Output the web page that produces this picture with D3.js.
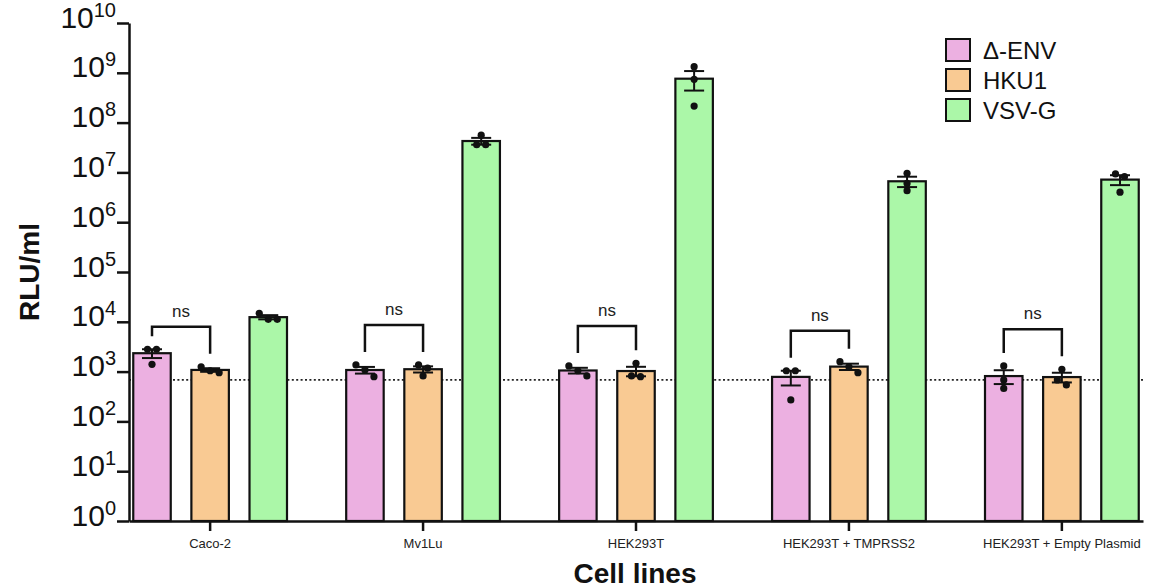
<!DOCTYPE html>
<html>
<head>
<meta charset="utf-8">
<script src="https://cdn.jsdelivr.net/npm/d3@7"></script>
<style>
  html, body { margin: 0; padding: 0; background: #fff; }
  svg { display: block; font-family: "Liberation Sans", Arial, Helvetica, sans-serif; }
</style>
</head>
<body>
<svg id="chart" width="1149" height="588"></svg>
<script>
// Cell lines on the x axis
const categories = ["Caco-2", "Mv1Lu", "HEK293T", "HEK293T + TMPRSS2", "HEK293T + Empty Plasmid"];
// Pseudovirus series
const seriesNames = ["Δ-ENV", "HKU1", "VSV-G"];
const seriesColors = ["#ecb0e1", "#f9ca93", "#abf7a8"];

// Replicate RLU/ml measurements per cell line (three per condition)
const deltaEnvReplicates = [
  [2810, 2810, 1400],
  [1360, 790, 1080],
  [1300, 820, 1040],
  [1040, 1040, 270],
  [1300, 680, 460]
];
const hku1Replicates = [
  [950, 1250, 1040],
  [1360, 820, 1170],
  [1470, 790, 820],
  [1580, 950, 1250],
  [1110, 680, 540]
];
const vsvgReplicates = [
  [14800, 11200, 11200],
  [5.6e7, 3.6e7, 3.6e7],
  [1.33e9, 7.4e8, 2.15e8],
  [9.6e6, 6.0e6, 4.3e6],
  [9.3e6, 8.2e6, 4.0e6]
];

// Δ-ENV vs HKU1 comparison per cell line
const significance = ["ns", "ns", "ns", "ns", "ns"];
// Background (limit of detection)
const detectionLimit = 680;

// Log axis ticks
const yTickValues = [1e0, 1e1, 1e2, 1e3, 1e4, 1e5, 1e6, 1e7, 1e8, 1e9, 1e10];
const yTickExponents = ["0", "1", "2", "3", "4", "5", "6", "7", "8", "9", "10"];

const yAxisTitle = "RLU/ml";
const xAxisTitle = "Cell lines";

// ---- layout ----
const svg = d3.select("#chart");
const plotLeft = 129, plotRight = 1143, plotTop = 23, plotBottom = 521;

const replicates = [deltaEnvReplicates, hku1Replicates, vsvgReplicates];
const rows = [];
categories.forEach((c, gi) => {
  seriesNames.forEach((s, si) => {
    const vals = replicates[si][gi];
    const mean = d3.mean(vals);
    const sem = d3.deviation(vals) / Math.sqrt(vals.length);
    rows.push({ category: c, series: s, si, gi, vals, mean, sem });
  });
});

const x0 = d3.scaleBand().domain(categories).range([plotLeft, plotRight])
  .paddingInner(0.278).paddingOuter(0.02);
const x1 = d3.scaleBand().domain(seriesNames).range([0, x0.bandwidth()])
  .paddingInner(0.355).paddingOuter(0);
const y = d3.scaleLog().domain([1, 1e10]).range([plotBottom, plotTop]);
const color = d3.scaleOrdinal().domain(seriesNames).range(seriesColors);

const barCenter = d => x0(d.category) + x1(d.series) + x1.bandwidth() / 2;

// detection limit line, behind the bars
svg.append("line")
  .attr("x1", plotLeft).attr("x2", plotRight)
  .attr("y1", y(detectionLimit)).attr("y2", y(detectionLimit))
  .attr("stroke", "#222").attr("stroke-width", 1.7)
  .attr("stroke-dasharray", "2,2.4");

// bars
svg.append("g").selectAll("rect").data(rows).join("rect")
  .attr("x", d => x0(d.category) + x1(d.series))
  .attr("y", d => y(d.mean))
  .attr("width", x1.bandwidth())
  .attr("height", d => plotBottom - y(d.mean))
  .attr("fill", d => color(d.series))
  .attr("stroke", "#111").attr("stroke-width", 2.2);

// error bars (mean ± SEM)
const capW = 20;
const eb = svg.append("g").attr("stroke", "#111").attr("stroke-width", 2).attr("fill", "none");
rows.forEach(d => {
  const cx = barCenter(d);
  const hi = y(d.mean + d.sem), lo = y(Math.max(d.mean - d.sem, 1));
  eb.append("line").attr("x1", cx).attr("x2", cx).attr("y1", hi).attr("y2", lo);
  eb.append("line").attr("x1", cx - capW / 2).attr("x2", cx + capW / 2).attr("y1", hi).attr("y2", hi);
  eb.append("line").attr("x1", cx - capW / 2).attr("x2", cx + capW / 2).attr("y1", lo).attr("y2", lo);
});

// replicate points, spread sideways where they would overlap
const r = 3.6, spread = 9;
const pts = [];
rows.forEach(d => {
  const py = d.vals.map(v => y(v)).sort((a, b) => a - b);
  let cluster = [];
  const flush = () => {
    cluster.forEach((yy, j) => pts.push({ x: barCenter(d) + (j - (cluster.length - 1) / 2) * spread, y: yy }));
    cluster = [];
  };
  py.forEach(yy => {
    if (cluster.length && yy - cluster[cluster.length - 1] > 2 * r) flush();
    cluster.push(yy);
  });
  flush();
});
svg.append("g").selectAll("circle").data(pts).join("circle")
  .attr("cx", d => d.x).attr("cy", d => d.y).attr("r", r).attr("fill", "#111");

// significance brackets between Δ-ENV and HKU1
const br = svg.append("g");
categories.forEach((c, gi) => {
  const a = rows.find(d => d.gi === gi && d.si === 0);
  const b = rows.find(d => d.gi === gi && d.si === 1);
  const ya = y(d3.max(a.vals)) - 13, yb = y(d3.max(b.vals)) - 13;
  const yt = Math.max(ya, yb) - 27;
  const xa = barCenter(a), xb = barCenter(b);
  br.append("path")
    .attr("d", `M${xa},${ya}V${yt}H${xb}V${yb}`)
    .attr("fill", "none").attr("stroke", "#111").attr("stroke-width", 2.5);
  br.append("text").attr("x", (xa + xb) / 2).attr("y", yt - 10)
    .attr("text-anchor", "middle").attr("font-size", 17).attr("fill", "#222")
    .text(significance[gi]);
});

// y axis
const yAxis = svg.append("g").attr("transform", `translate(${plotLeft},0)`)
  .call(d3.axisLeft(y).tickValues(yTickValues).tickFormat("").tickSize(12).tickSizeOuter(0));
yAxis.select(".domain").attr("stroke", "#111").attr("stroke-width", 2.5);
yAxis.selectAll(".tick line").attr("stroke", "#111").attr("stroke-width", 2.5);
yAxis.selectAll(".tick").each(function (v, i) {
  const t = d3.select(this).append("text")
    .attr("x", -13).attr("y", 0).attr("dy", "0.4em")
    .attr("text-anchor", "end").attr("fill", "#111");
  t.append("tspan").attr("font-size", 30).text("10");
  t.append("tspan").attr("font-size", 20).attr("dy", "-0.55em").text(yTickExponents[i]);
});

// x axis
const xAxis = svg.append("g").attr("transform", `translate(0,${plotBottom})`)
  .call(d3.axisBottom(x0).tickSize(10).tickSizeOuter(0).tickPadding(8));
xAxis.select(".domain").attr("stroke", "#111").attr("stroke-width", 2.5);
xAxis.selectAll(".tick line").attr("stroke", "#111").attr("stroke-width", 2.5);
xAxis.selectAll(".tick text").attr("font-size", 13).attr("fill", "#222")
  .attr("font-family", "Liberation Sans, Arial, sans-serif");

// axis titles
svg.append("text").attr("transform", "translate(39,272) rotate(-90)")
  .attr("text-anchor", "middle").attr("font-size", 28).attr("font-weight", "bold")
  .attr("fill", "#111").text(yAxisTitle);
svg.append("text").attr("x", 635).attr("y", 583)
  .attr("text-anchor", "middle").attr("font-size", 28).attr("font-weight", "bold")
  .attr("fill", "#111").text(xAxisTitle);

// legend
const lg = svg.append("g").attr("transform", "translate(946,39)");
seriesNames.forEach((s, i) => {
  const row = lg.append("g").attr("transform", `translate(0,${i * 30})`);
  row.append("rect").attr("width", 24).attr("height", 22)
    .attr("fill", color(s)).attr("stroke", "#111").attr("stroke-width", 2);
  row.append("text").attr("x", 37).attr("y", 11).attr("dy", "0.36em")
    .attr("font-size", 24).attr("fill", "#111").text(s);
});
</script>
</body>
</html>
